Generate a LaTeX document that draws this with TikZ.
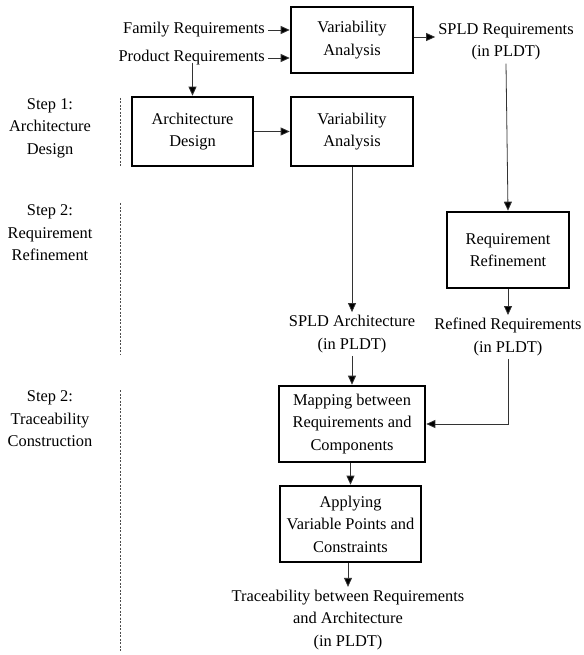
\documentclass[tikz,border=0pt]{standalone}
\usepackage{fontspec}
\setmainfont{Liberation Serif}
\usetikzlibrary{arrows.meta}
\begin{document}
\begin{tikzpicture}[x=1pt,y=-1pt,
  every node/.style={font=\fontsize{16.4}{22.5}\selectfont, align=center},
  lbl/.style={inner sep=3pt},
  procbox/.style={draw, line width=2.6pt, inner sep=0pt},
  arr/.style={draw=black!80, line width=0.8pt, -{Triangle[length=9pt,width=8pt,fill=black]}},
  sep/.style={draw=black!70, line width=0.6pt, dash pattern=on 2pt off 1.5pt}]
\useasboundingbox (0,0) rectangle (583,655);

% inputs and first analysis
\node[lbl, anchor=east] (fam) at (268,30) {Family Requirements};
\node[lbl, anchor=east] (prod) at (268,58) {Product Requirements};
\node[procbox, minimum width=122pt, minimum height=66pt] (va1) at (352,40) {Variability\\Analysis};
\node[lbl] (splr) at (506,42) {SPLD Requirements\\(in PLDT)};

% step 1
\node[procbox, minimum width=121pt, minimum height=69pt] (ad) at (192.5,131.5) {Architecture\\Design};
\node[procbox, minimum width=122pt, minimum height=69pt] (va2) at (352,131.5) {Variability\\Analysis};

% step 2
\node[procbox, minimum width=122pt, minimum height=76pt] (rr) at (508,250) {Requirement\\Refinement};
\node[lbl] (splda) at (352,334) {SPLD Architecture\\(in PLDT)};
\node[lbl] (refr) at (508,337) {Refined Requirements\\(in PLDT)};

% step 3
\node[procbox, minimum width=146pt, minimum height=76pt] (map) at (352,424) {Mapping between\\Requirements and\\Components};
\node[procbox, minimum width=141pt, minimum height=76pt] (app) at (350.5,524) {Applying\\Variable Points and\\Constraints};
\node[lbl] (trace) at (348,620) {Traceability between Requirements\\and Architecture\\(in PLDT)};

% step labels
\node (s1) at (50,128) {Step 1:\\Architecture\\Design};
\node (s2) at (50,233) {Step 2:\\Requirement\\Refinement};
\node (s3) at (50,419) {Step 2:\\Traceability\\Construction};

% phase separators
\draw[sep] (120,98) -- (120,167);
\draw[sep] (120,203) -- (120,355);
\draw[sep] (120,390) -- (120,652);

% connectors
\draw[arr] (fam.east) -- (fam.east -| va1.west);
\draw[arr] (prod.east) -- (prod.east -| va1.west);
\draw[arr] ([yshift=6pt]prod.south -| ad.north) -- (ad.north);
\draw[arr] ([yshift=3pt]va1.east) -- ([yshift=3pt]va1.east -| splr.west);
\draw[arr] (splr.south) -- (rr.north);
\draw[arr] (ad.east) -- (va2.west);
\draw[arr] (va2.south) -- (splda.north);
\draw[arr] (rr.south) -- (refr.north);
\draw[arr] (splda.south) -- (map.north);
\draw[arr] (refr.south) |- (map.east);
\draw[arr] (map.south -| app.north) -- (app.north);
\draw[arr] (app.south -| trace.north) -- (trace.north);
\end{tikzpicture}
\end{document}
